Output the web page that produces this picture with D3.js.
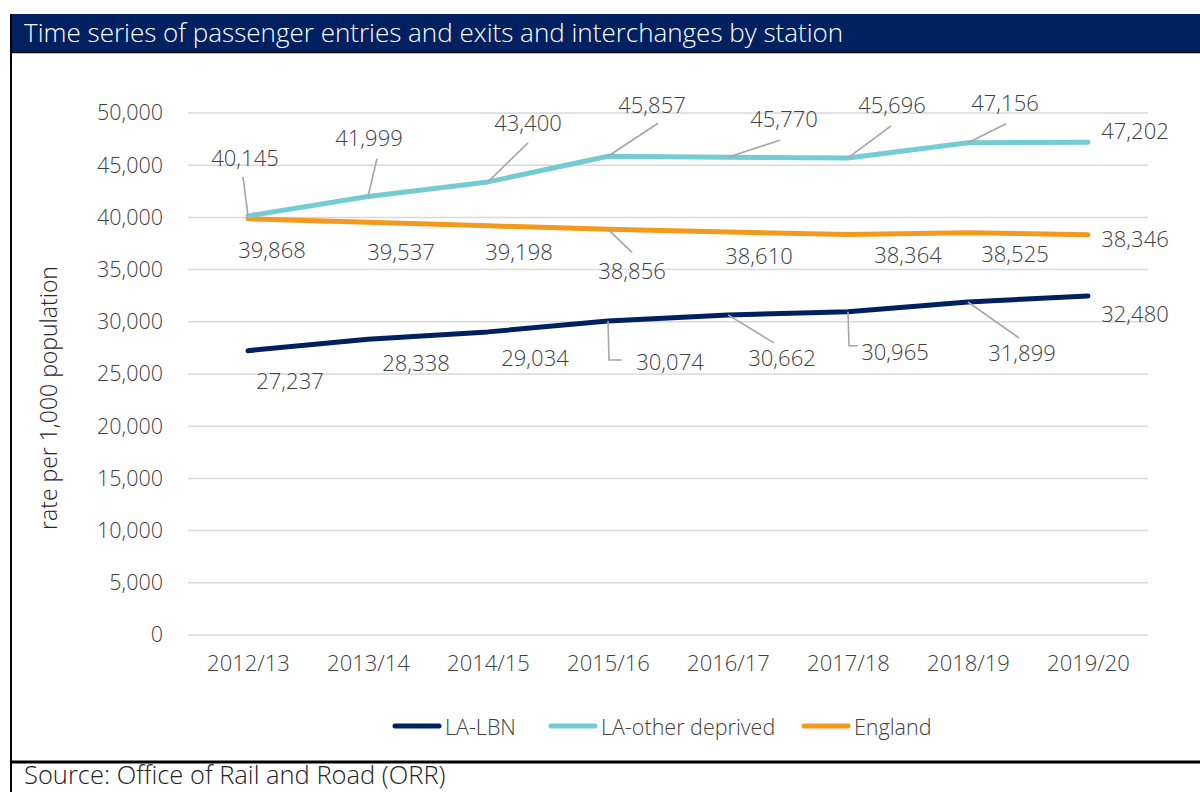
<!DOCTYPE html>
<html><head><meta charset="utf-8">
<script src="https://cdn.jsdelivr.net/npm/d3@7"></script>
<style>body{margin:0;background:#fff}svg{display:block}text{font-family:"Open Sans",Lato,sans-serif;font-weight:300}</style>
</head><body><svg id="c" width="1200" height="792"></svg>
<script>
const categories = ["2012/13","2013/14","2014/15","2015/16","2016/17","2017/18","2018/19","2019/20"];
const seriesNames = ["LA-LBN","LA-other deprived","England"];
const lbnValues = [27237,28338,29034,30074,30662,30965,31899,32480];
const otherValues = [40145,41999,43400,45857,45770,45696,47156,47202];
const englandValues = [39868,39537,39198,38856,38610,38364,38525,38346];
const yTicks = [0,5000,10000,15000,20000,25000,30000,35000,40000,45000,50000];
const title = "Time series of passenger entries and exits and interchanges by station";
const yTitle = "rate per 1,000 population";
const source = "Source: Office of Rail and Road (ORR)";

// layout config (label offsets from point, px)
const colors = ["#002060","#74CBD3","#F39A1E"];
const labelOffsets = [
  [[42,29],[48,23],[47,25],[62,40],[54,42],[47,39],[54,50],[47,17]],
  [[-3,-59],[1,-60],[40,-60],[44,-52],[56,-39],[44,-54],[37,-41],[47,-12]],
  [[24,30],[33,29],[31,25],[24,41],[31,23],[60,20],[47,20],[47,3]]
];
// leader: [type, dx, dy] end relative to label centre; null = none
const leaders = [
  [null,null,null,["elbow",-48,-1],["line",-8,-14],["elbow",-37,-5],["line",-3,-14],null],
  [["line",-2,20],["line",8,22],["line",0,21],["line",6,19],["line",-4,22],["line",-1,22],["line",1,22],null],
  [null,null,null,["line",0,-18],null,null,null,null]
];

const svg = d3.select("#c");
const textCol = "#404040";

// frame
svg.append("rect").attr("x",10).attr("y",14).attr("width",1190).attr("height",38).attr("fill","#002060");
svg.append("line").attr("x1",10).attr("x2",1200).attr("y1",52.5).attr("y2",52.5).attr("stroke","#000").attr("stroke-width",1.5);
svg.append("line").attr("x1",11).attr("x2",11).attr("y1",14).attr("y2",792).attr("stroke","#000").attr("stroke-width",2);
svg.append("line").attr("x1",10).attr("x2",1200).attr("y1",762).attr("y2",762).attr("stroke","#000").attr("stroke-width",3);
svg.append("text").attr("x",24).attr("y",42).attr("fill","#fff").attr("font-size",26).text(title);
svg.append("text").attr("x",24).attr("y",784).attr("fill","#222").attr("font-size",25.5).text(source);

const x = d3.scalePoint().domain(categories).range([248,1088]);
const y = d3.scaleLinear().domain([0,50000]).range([635,113]);

// grid
svg.append("g").selectAll("line").data(yTicks).join("line")
  .attr("x1",188).attr("x2",1148).attr("y1",d=>y(d)).attr("y2",d=>y(d))
  .attr("stroke","#D9D9D9").attr("stroke-width",1.5);

const yAxis = svg.append("g").attr("transform","translate(188,0)")
  .call(d3.axisLeft(y).tickValues(yTicks).tickFormat(d3.format(",")).tickSize(0).tickPadding(25));
yAxis.select(".domain").remove();
yAxis.selectAll("text").attr("font-size",21.5).attr("fill",textCol).attr("font-family",null);

const xAxis = svg.append("g").attr("transform","translate(0,635)")
  .call(d3.axisBottom(x).tickSize(0).tickPadding(20));
xAxis.select(".domain").remove();
xAxis.selectAll("text").attr("font-size",22).attr("fill",textCol).attr("font-family",null);

svg.append("text").attr("transform","translate(48,398) rotate(-90)").attr("text-anchor","middle")
  .attr("dominant-baseline","central")
  .attr("font-size",23).attr("fill","#262626").text(yTitle);

const allSeries = [lbnValues, otherValues, englandValues];
const line = d3.line().x((d,i)=>x(categories[i])).y(d=>y(d));

[2,1,0].forEach(s=>{
  svg.append("path").datum(allSeries[s]).attr("d",line).attr("fill","none")
    .attr("stroke",colors[s]).attr("stroke-width",5).attr("stroke-linecap","round").attr("stroke-linejoin","round");
});

const fmt = d3.format(",");
allSeries.forEach((vals,s)=>{
  vals.forEach((v,i)=>{
    const px = x(categories[i]), py = y(v);
    const lx = px + labelOffsets[s][i][0], ly = py + labelOffsets[s][i][1];
    const L = leaders[s][i];
    if (L) {
      const ex = lx + L[1], ey = ly + L[2];
      let pts;
      if (L[0]==="elbow") pts = [[px,py],[px+1,ey],[ex,ey]];
      else pts = [[px,py],[ex,ey]];
      svg.append("path").attr("d",d3.line()(pts)).attr("fill","none").attr("stroke","#A6A6A6").attr("stroke-width",1.6);
    }
  });
});
allSeries.forEach((vals,s)=>{
  vals.forEach((v,i)=>{
    const px = x(categories[i]), py = y(v);
    svg.append("text").attr("x",px+labelOffsets[s][i][0]).attr("y",py+labelOffsets[s][i][1])
      .attr("text-anchor","middle").attr("dominant-baseline","central")
      .attr("font-size",22).attr("fill",textCol).text(fmt(v));
  });
});

// legend
const legX = [392,548,801];
const legW = 50;
seriesNames.forEach((n,s)=>{
  const g = svg.append("g");
  g.append("line").attr("x1",legX[s]+3).attr("x2",legX[s]+legW-3).attr("y1",726).attr("y2",726)
    .attr("stroke",colors[s]).attr("stroke-width",5).attr("stroke-linecap","round");
  g.append("text").attr("x",legX[s]+legW+3).attr("y",726).attr("dominant-baseline","central")
    .attr("font-size",21.5).attr("fill",textCol).text(n);
});
</script></body></html>
